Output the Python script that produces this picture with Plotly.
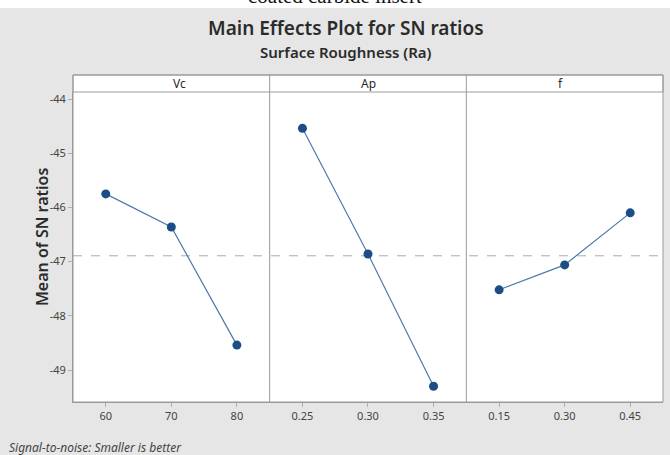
import plotly.graph_objects as go

# Factor levels and mean S/N ratios (dB) for each factor
vc_levels = ["60", "70", "80"]
vc_sn = [-45.75, -46.36, -48.54]

ap_levels = ["0.25", "0.30", "0.35"]
ap_sn = [-44.54, -46.86, -49.30]

f_levels = ["0.15", "0.30", "0.45"]
f_sn = [-47.52, -47.06, -46.10]

panel_names = ["Vc", "Ap", "f"]
y_ticks = [-44, -45, -46, -47, -48, -49]

W, H = 670, 455
ML, MR, MT, MB = 73, 7, 92, 53
PW, PH = W - ML - MR, H - MT - MB


def px_x(x):
    return (x - ML) / PW


def px_y(y):
    return (H - MB - y) / PH


overall_mean = sum(vc_sn + ap_sn + f_sn) / 9

fig = go.Figure()
panels = [(vc_levels, vc_sn), (ap_levels, ap_sn), (f_levels, f_sn)]
line_col = "#4f78ab"
mark_col = "#1d4d86"
grid_col = "#9a9a9a"
text_col = "#2b2b2b"

for i, (lv, sn) in enumerate(panels):
    ax = "" if i == 0 else str(i + 1)
    fig.add_trace(go.Scatter(
        x=lv, y=sn, mode="lines+markers",
        line=dict(color=line_col, width=1.2),
        marker=dict(color=mark_col, size=9),
        xaxis="x" + ax, yaxis="y", showlegend=False, hoverinfo="x+y"))
    d0, d1 = i / 3, (i + 1) / 3
    fig.layout["xaxis" + ax] = dict(
        domain=[d0, d1], type="category", range=[-0.5, 2.5],
        showgrid=False, zeroline=False, showline=True, linecolor=grid_col,
        linewidth=1, mirror=False, ticks="outside", ticklen=4,
        tickcolor="#b0b0b0", tickfont=dict(family="Noto Sans", size=11, color="#444"),
        anchor="y", fixedrange=True)
    # strip label above each panel
    fig.add_annotation(x=(d0 + d1) / 2, y=px_y(83.5), xref="paper", yref="paper",
                       yanchor="middle", text=panel_names[i], showarrow=False,
                       font=dict(family="Noto Sans", size=12, color=text_col))

fig.update_layout(
    width=W, height=H,
    margin=dict(l=ML, r=MR, t=MT, b=MB),
    paper_bgcolor="#e6e6e6", plot_bgcolor="white",
    yaxis=dict(range=[-49.59, -43.87], tickvals=y_ticks,
               ticktext=[str(t) for t in y_ticks],
               showgrid=False, zeroline=False, showline=True, linecolor=grid_col,
               ticks="outside", ticklen=4, tickcolor="#b0b0b0",
               tickfont=dict(family="Noto Sans", size=11, color="#444"),
               fixedrange=True),
)

shapes = []
# strip background
shapes.append(dict(type="rect", xref="paper", yref="paper", x0=0, x1=1,
                   y0=1, y1=px_y(75), fillcolor="white",
                   line=dict(color=grid_col, width=1), layer="below"))
# outer frame
shapes.append(dict(type="rect", xref="paper", yref="paper", x0=0, x1=1,
                   y0=0, y1=px_y(75), line=dict(color=grid_col, width=1)))
# panel separators
for d in (1 / 3, 2 / 3):
    shapes.append(dict(type="line", xref="paper", yref="paper", x0=d, x1=d,
                       y0=0, y1=px_y(75), line=dict(color=grid_col, width=1)))
# overall mean reference line
shapes.append(dict(type="line", xref="paper", yref="y", x0=0, x1=1,
                   y0=overall_mean, y1=overall_mean,
                   line=dict(color="#aaaaaa", width=1, dash="dash"), layer="below"))
# white band along the top edge of the page
shapes.append(dict(type="rect", xref="paper", yref="paper", x0=px_x(0), x1=px_x(W),
                   y0=px_y(8), y1=px_y(-5), fillcolor="white", line=dict(width=0)))
fig.update_layout(shapes=shapes)

fig.add_annotation(x=px_x(335), y=px_y(10), xref="paper", yref="paper",
                   yanchor="bottom", text="coated carbide insert", showarrow=False,
                   font=dict(family="Liberation Serif", size=21, color="#111"))
fig.add_annotation(x=px_x(346), y=px_y(28), xref="paper", yref="paper",
                   yanchor="middle", text="Main Effects Plot for SN ratios",
                   showarrow=False,
                   font=dict(family="Noto Sans", size=19, color=text_col, weight=600))
fig.add_annotation(x=px_x(346), y=px_y(52), xref="paper", yref="paper",
                   yanchor="middle", text="Surface Roughness (Ra)", showarrow=False,
                   font=dict(family="Noto Sans", size=15, color=text_col, weight=600))
fig.add_annotation(x=px_x(29), y=px_y(237), xref="paper", yref="paper",
                   yanchor="middle", text="Mean of SN ratios", showarrow=False,
                   textangle=-90,
                   font=dict(family="Noto Sans", size=16, color=text_col, weight=600))
fig.add_annotation(x=px_x(7), y=px_y(447), xref="paper", yref="paper",
                   xanchor="left", yanchor="middle",
                   text="<i>Signal-to-noise: Smaller is better</i>",
                   showarrow=False,
                   font=dict(family="Noto Sans", size=12, color="#444"))

fig.write_html("out.html")
